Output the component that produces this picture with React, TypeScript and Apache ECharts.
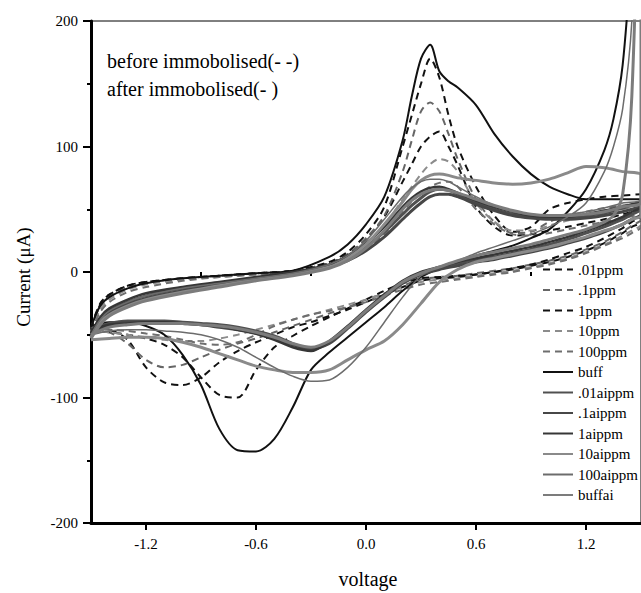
import React, { useEffect, useRef } from "react";
import * as echarts from "echarts";

// Potentials (V) for the forward (upper) and return (lower) branches
const UP_V = [-1.5,-1.45,-1.4,-1.3,-1.2,-1.0,-0.8,-0.6,-0.4,-0.2,-0.1,0.0,0.1,0.2,0.25,0.3,0.35,0.4,0.45,0.5,0.6,0.7,0.8,0.9,1.0,1.1,1.2,1.3,1.4,1.5];
const DOWN_V = [1.5,1.45,1.4,1.35,1.3,1.2,1.1,1.0,0.9,0.8,0.7,0.6,0.5,0.4,0.3,0.2,0.1,0.0,-0.1,-0.2,-0.3,-0.4,-0.5,-0.6,-0.7,-0.8,-0.9,-1.0,-1.1,-1.2,-1.3,-1.4,-1.5];

// Currents (µA)
const p01Up = [-44,-25,-18,-11,-8,-5,-3,-1,1,7,14,26,44,72,86,100,108,112,100,85,52,36,29,30,33,36,39,42,46,50];
const p01Down = [40,36,31,27,23,17,12,8,5,2,0,-2,-4,-5,-7,-12,-18,-24,-30,-35,-40,-44,-50,-56,-63,-72,-84,-90,-88,-76,-54,-46,-44];
const p1Up = [-45,-27,-20,-12,-9,-6,-3,-1,1,7,14,27,45,80,105,128,135,128,110,90,58,40,31,32,40,45,48,51,53,55];
const p1Down = [42,37,32,28,24,18,13,9,6,3,1,-1,-3,-4,-6,-11,-17,-22,-28,-33,-38,-43,-48,-53,-57,-62,-68,-74,-76,-70,-57,-48,-45];
const ppm1Up = [-46,-26,-18,-11,-8,-5,-3,-1,1,8,16,30,52,100,125,150,170,155,125,100,68,45,32,36,50,55,58,60,61,62];
const ppm1Down = [44,40,35,31,27,20,15,10,6,3,0,-2,-3,-4,-5,-9,-15,-22,-29,-36,-43,-51,-60,-78,-100,-98,-84,-68,-58,-53,-50,-48,-47];
const ppm10Up = [-47,-30,-22,-14,-10,-6,-4,-2,0,5,11,22,37,58,68,78,86,90,88,80,55,40,33,33,37,41,44,47,50,52];
const ppm10Down = [38,33,29,25,22,16,11,7,4,1,-1,-3,-5,-6,-8,-12,-17,-22,-26,-30,-34,-38,-42,-46,-50,-53,-55,-55,-54,-52,-50,-48,-47];
const ppm100Up = [-48,-32,-24,-16,-12,-7,-4,-2,0,4,9,18,30,48,56,63,68,71,72,68,50,38,30,29,31,34,37,40,43,46];
const ppm100Down = [36,31,27,24,21,15,10,6,3,0,-2,-4,-6,-8,-10,-14,-19,-24,-28,-31,-34,-38,-43,-50,-56,-58,-57,-54,-51,-49,-47,-46,-45];
const buffUp = [-44,-27,-20,-13,-9,-5,-3,-1,1,12,22,38,60,105,140,170,181,160,152,147,133,110,92,78,68,62,58,58,58,58];
const buffDown = [400,260,165,122,97,66,48,34,27,21,17,13,8,3,-4,-15,-28,-40,-52,-64,-78,-108,-133,-143,-142,-125,-90,-66,-50,-43,-40,-40,-43];
const a01Up = [-50,-38,-31,-24,-19,-13,-9,-5,-1,5,11,20,32,46,53,59,64,66,65,62,56,50,46,44,43,43,45,47,51,55];
const a01Down = [50,46,42,39,36,31,26,22,18,15,12,10,7,3,-1,-8,-19,-31,-44,-56,-62,-57,-51,-47,-44,-42,-41,-40,-39,-39,-39,-41,-46];
const a1Up = [-52,-40,-33,-26,-21,-15,-10,-6,-2,4,9,17,28,42,49,55,60,62,62,60,54,49,45,43,42,42,43,45,48,52];
const a1Down = [46,42,38,35,32,27,23,19,16,13,10,8,5,2,-2,-9,-20,-32,-45,-57,-61,-58,-53,-49,-46,-44,-42,-41,-40,-40,-40,-42,-48];
const aPpm1Up = [-49,-36,-29,-22,-17,-12,-8,-4,0,6,13,23,36,52,59,64,67,68,66,63,57,52,48,45,44,44,46,49,52,56];
const aPpm1Down = [52,48,44,41,38,33,28,24,20,17,14,11,8,4,0,-7,-18,-30,-43,-55,-63,-60,-54,-49,-46,-43,-42,-41,-40,-40,-41,-42,-46];
const aPpm10Up = [-52,-40,-34,-27,-22,-16,-11,-6,-2,4,11,22,38,56,66,73,77,78,77,75,73,71,70,71,74,79,84,83,80,77];
const aPpm10Down = [45,42,38,35,33,28,24,20,17,14,11,8,2,-8,-25,-42,-55,-62,-70,-78,-80,-80,-78,-75,-70,-65,-60,-56,-53,-52,-52,-53,-54];
const aPpm100Up = [-50,-38,-31,-24,-19,-13,-9,-5,-1,6,13,25,42,60,67,72,74,74,72,68,60,53,48,46,45,46,48,51,55,58];
const aPpm100Down = [400,200,130,100,80,55,44,36,30,25,20,15,9,4,-3,-20,-40,-60,-76,-86,-87,-83,-76,-68,-60,-54,-50,-48,-47,-46,-46,-47,-50];
const buffaiUp = [-53,-42,-35,-28,-23,-17,-12,-7,-3,3,9,19,33,50,57,62,65,66,65,63,58,53,49,46,45,45,46,48,52,56];
const buffaiDown = [400,140,62,45,40,34,30,26,22,19,16,13,9,4,-1,-8,-19,-31,-44,-55,-60,-57,-52,-48,-45,-43,-42,-41,-41,-41,-42,-44,-50];

const X_LABELS = [-1.2, -0.6, 0, 0.6, 1.2];
const X_MINOR = [-0.9, -0.3, 0.3, 0.9];

const SERIF = "'Liberation Serif', 'DejaVu Serif', serif";

type Def = { name: string; up: number[]; down: number[]; color: string; width: number; dashed: boolean };

const DEFS: Def[] = [
  { name: ".01ppm", up: p01Up, down: p01Down, color: "#111111", width: 2, dashed: true },
  { name: ".1ppm", up: p1Up, down: p1Down, color: "#666666", width: 2, dashed: true },
  { name: "1ppm", up: ppm1Up, down: ppm1Down, color: "#111111", width: 2, dashed: true },
  { name: "10ppm", up: ppm10Up, down: ppm10Down, color: "#8c8c8c", width: 2, dashed: true },
  { name: "100ppm", up: ppm100Up, down: ppm100Down, color: "#6e6e6e", width: 2, dashed: true },
  { name: "buff", up: buffUp, down: buffDown, color: "#111111", width: 2, dashed: false },
  { name: ".01aippm", up: a01Up, down: a01Down, color: "#505050", width: 3, dashed: false },
  { name: ".1aippm", up: a1Up, down: a1Down, color: "#474747", width: 3, dashed: false },
  { name: "1aippm", up: aPpm1Up, down: aPpm1Down, color: "#363636", width: 2.5, dashed: false },
  { name: "10aippm", up: aPpm10Up, down: aPpm10Down, color: "#8a8a8a", width: 3, dashed: false },
  { name: "100aippm", up: aPpm100Up, down: aPpm100Down, color: "#6c6c6c", width: 1.5, dashed: false },
  { name: "buffai", up: buffaiUp, down: buffaiDown, color: "#7c7c7c", width: 3, dashed: false },
];

export default function App() {
  const ref = useRef<HTMLDivElement>(null);
  useEffect(() => {
    if (!ref.current) return;
    const chart = echarts.init(ref.current, null, { renderer: "svg" });
    const series = DEFS.map((d) => ({
      name: d.name,
      type: "line",
      xAxisIndex: 0,
      yAxisIndex: 0,
      symbol: "none",
      smooth: 0.3,
      clip: true,
      data: UP_V.map((v, i) => [v, d.up[i]]).concat(DOWN_V.map((v, i) => [v, d.down[i]])),
      lineStyle: { color: d.color, width: d.width, type: d.dashed ? [7, 5] : "solid" },
      itemStyle: { color: d.color },
    }));
    chart.setOption({
      animation: false,
      backgroundColor: "#ffffff",
      grid: { left: 91, top: 21, width: 550, height: 502, show: true, borderColor: "#000", borderWidth: 1, backgroundColor: "transparent" },
      xAxis: [
        {
          type: "value", min: -1.5, max: 1.5, interval: 0.3, position: "bottom",
          axisLine: { show: true, onZero: false, lineStyle: { color: "#000", width: 3 } },
          axisTick: { show: true, customValues: X_LABELS, length: 7, lineStyle: { color: "#000", width: 2 } },
          axisLabel: { customValues: X_LABELS, formatter: (v: number) => v.toFixed(1), margin: 13, fontFamily: SERIF, fontSize: 15, color: "#000" },
          splitLine: { show: false },
        },
        {
          type: "value", min: -1.5, max: 1.5, interval: 0.3, position: "bottom",
          axisLine: { show: false },
          axisTick: { show: true, customValues: X_MINOR, length: 4, lineStyle: { color: "#000", width: 2 } },
          axisLabel: { show: false },
          splitLine: { show: false },
        },
      ],
      yAxis: {
        type: "value", min: -200, max: 200, interval: 100,
        axisLine: { show: true, onZero: false, lineStyle: { color: "#000", width: 3 } },
        axisTick: { show: true, length: 8, lineStyle: { color: "#000", width: 2 } },
        minorTick: { show: true, splitNumber: 2, length: 4, lineStyle: { color: "#000", width: 2 } },
        axisLabel: { margin: 13, fontFamily: SERIF, fontSize: 15, color: "#000" },
        splitLine: { show: false },
        minorSplitLine: { show: false },
      },
      legend: {
        orient: "vertical", left: 537, top: 257,
        itemWidth: 30, itemHeight: 12, itemGap: 5.5,
        itemStyle: { color: "transparent", borderColor: "transparent", borderWidth: 0, opacity: 0 },
        textStyle: { fontFamily: SERIF, fontSize: 15, color: "#000" },
        data: DEFS.map((d) => d.name),
        backgroundColor: "transparent",
      },
      graphic: [
        { type: "text", x: 107, y: 61, style: { text: "before immobolised(- -)", fontFamily: SERIF, fontSize: 20, fill: "#000", verticalAlign: "middle", align: "left" } },
        { type: "text", x: 107, y: 89, style: { text: "after immobolised(- )", fontFamily: SERIF, fontSize: 20, fill: "#000", verticalAlign: "middle", align: "left" } },
        { type: "text", x: 23, y: 277, rotation: Math.PI / 2, style: { text: "Current (\u03bcA)", fontFamily: SERIF, fontSize: 19, fill: "#000", verticalAlign: "middle", align: "center" } },
        { type: "text", x: 368, y: 579, style: { text: "voltage", fontFamily: SERIF, fontSize: 20, fill: "#000", verticalAlign: "middle", align: "center" } },
      ],
      series,
    });
    return () => chart.dispose();
  }, []);
  return <div ref={ref} style={{ position: "fixed", left: 0, top: 0, width: 641, height: 593 }} />;
}
